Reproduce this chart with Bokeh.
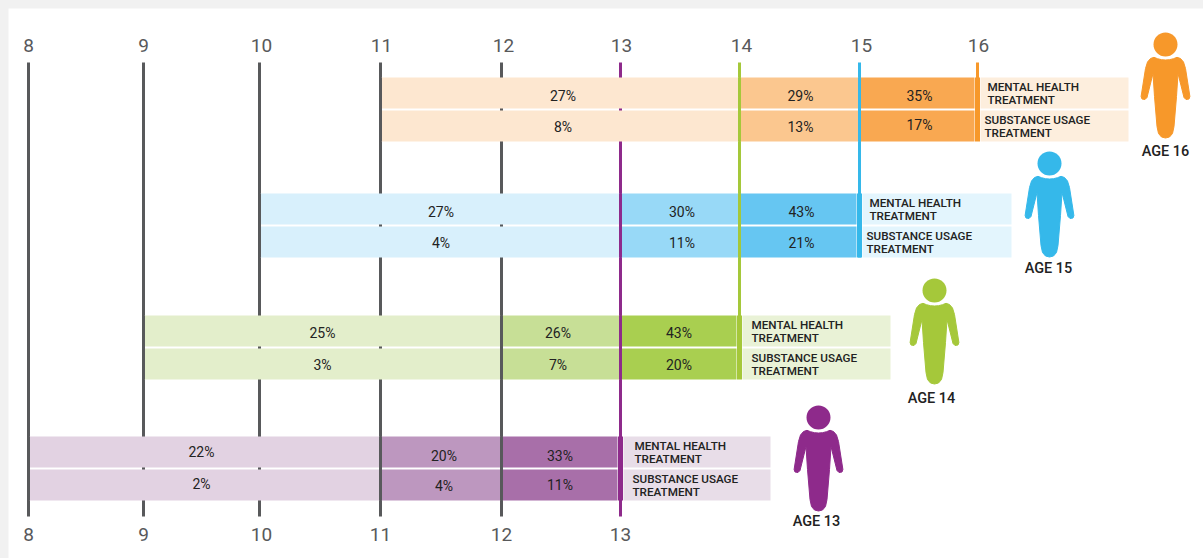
from bokeh.plotting import figure
from bokeh.embed import file_html
from bokeh.resources import INLINE
from bokeh.core.properties import value
import numpy as np

AGES = [8, 9, 10, 11, 12, 13, 14, 15, 16]
AGE_PX = [28, 143, 259, 380, 501, 620, 739, 859, 977]          # where each age sits on the page
LINE_COLORS = ["#58595b"] * 5 + ["#8e2a8b", "#a5c83a", "#35b8ea", "#f7982a"]
LINE_BOTTOM = [516, 516, 516, 516, 516, 516, 378, 257, 140]

COHORTS = [16, 15, 14, 13]
MENTAL = {16: [27, 29, 35], 15: [27, 30, 43], 14: [25, 26, 43], 13: [22, 20, 33]}
SUBSTANCE = {16: [8, 13, 17], 15: [4, 11, 21], 14: [3, 7, 20], 13: [2, 4, 11]}
SHADES = {
    16: ["#fde7d0", "#fbc78f", "#f9a851"],
    15: ["#d8f0fc", "#98d9f7", "#66c6f2"],
    14: ["#e3eecb", "#c7df96", "#a9cf50"],
    13: ["#e2d2e2", "#bd97bf", "#a86fa9"],
}
BAND_COLOR = {16: "#fdeedd", 15: "#e3f5fd", 14: "#e9f2d6", 13: "#e8dde8"}
ROW_TOP = {16: 77, 15: 193, 14: 315, 13: 436}
BAND_END = {16: 1128, 15: 1011, 14: 890, 13: 770}
HEAD = {16: (1165, 44), 15: (1049, 163), 14: (934, 290), 13: (818, 417)}
AGE_LABEL_XY = {16: (1165, 151), 15: (1048, 268), 14: (931, 398), 13: (816, 521)}
TEXT_DX = {16: [2, 0, 0], 15: [0, 1, 1], 14: [-1, -4, -2], 13: [-4, 2, -2]}
TEXT_DY = {16: [[2.5, 2.5, 2.5], [0.5, 0.5, -1]], 15: [[2.5, 2.5, 2.5], [1, 1, 1]],
           14: [[2, 2, 2], [1, 1, 1]], 13: [[0, 4, 4], [-1, 1, 0]]}
LABEL_DX = {16: (10, 7), 15: (10, 7), 14: (12, 12), 13: (14, 12)}

BODY_RIGHT = [(0, 15.5), (4, 15.2), (8, 14.2), (11.5, 12.8), (15, 14), (18, 17.5), (20, 24), (24.4, 52),
              (23.5, 54.5), (20.5, 55), (18.5, 53), (12.5, 29), (11, 52), (8.5, 82), (7, 89), (4, 92.5), (0, 93.5)]

def x(age):
    return float(np.interp(age, AGES, AGE_PX))

p = figure(width=1195, height=550, x_range=(8, 1203), y_range=(558, 8),
           toolbar_location=None, output_backend="svg", min_border=0,
           outline_line_color=None, background_fill_color="white", border_fill_color="white")
p.axis.visible = False
p.grid.visible = False

# base age lines
for a, c, b in zip(AGES, LINE_COLORS, LINE_BOTTOM):
    p.segment([x(a)], [62], [x(a)], [b], line_color=c, line_width=3)

ROW_H, GAP = 31, 2
def t(txt, tx, ty, size, color="#222222", font="Roboto", align="center"):
    p.text([tx], [ty], text=[txt], text_font=value(font), text_font_size=size, text_color=color,
           text_align=align, text_baseline="middle")

for c in COHORTS:
    edges = [c - 5, c - 2, c - 1, c]
    top = ROW_TOP[c]
    rows = [(top, top + ROW_H, MENTAL[c]), (top + ROW_H + GAP, top + 2 * ROW_H + GAP, SUBSTANCE[c])]
    lc = LINE_COLORS[AGES.index(c)]
    for y0, y1, vals in rows:
        for i in range(3):
            x0 = x(edges[i]) + 1
            x1 = x(edges[i + 1]) - (3 if i == 2 else 1)
            p.quad(left=[x0], right=[x1], top=[y0], bottom=[y1], fill_color=SHADES[c][i], line_color=None)
        p.quad(left=[x(c) + 3], right=[BAND_END[c]], top=[y0], bottom=[y1], fill_color=BAND_COLOR[c], line_color=None)
    bot = top + 2 * ROW_H + GAP
    # lines that stay visible at segment boundaries
    for e in edges[:3]:
        k = AGES.index(e)
        p.segment([x(e)], [top], [x(e)], [bot], line_color=LINE_COLORS[k], line_width=3)
    p.segment([x(c)], [top], [x(c)], [bot], line_color=lc, line_width=5)
    for r, (y0, y1, vals) in enumerate(rows):
        for i in range(3):
            ty = (y0 + y1) / 2 + TEXT_DY[c][r][i]
            t(f"{vals[i]}%", (x(edges[i]) + x(edges[i + 1])) / 2 + 1 + TEXT_DX[c][i], ty, "14px")
    # category labels
    tx1, tx2 = x(c) + LABEL_DX[c][0], x(c) + LABEL_DX[c][1]
    for txt, xx, yy in [("MENTAL HEALTH", tx1, top + 9), ("TREATMENT", tx1, top + 22),
                        ("SUBSTANCE USAGE", tx2, top + 42), ("TREATMENT", tx2, top + 55)]:
        t(txt, xx, yy, "11.7px", align="left", font="Roboto Medium")
    # person figure
    hx, hy = HEAD[c]
    p.ellipse([hx], [hy], width=24, height=24, fill_color=lc, line_color=None)
    xs = [hx + a for a, _ in BODY_RIGHT] + [hx - a for a, _ in reversed(BODY_RIGHT)]
    ys = [hy + b for _, b in BODY_RIGHT] + [hy + b for _, b in reversed(BODY_RIGHT)]
    p.patch(xs, ys, fill_color=lc, line_color=lc, line_width=1, line_join="round")
    lx, ly = AGE_LABEL_XY[c]
    t(f"AGE {c}", lx, ly, "14.5px", font="Roboto Medium")

# age tick labels
TOP_LABEL_DX = [0, 0, 2, 1, 2, 1, 2, 2, 1]
for a, dx in zip(AGES, TOP_LABEL_DX):
    t(str(a), x(a) + dx, 45, "19px", color="#58595b")
for a, dx in zip(AGES[:6], [0, 0, 2, 0, 0, 0]):
    t(str(a), x(a) + dx, 534, "19px", color="#58595b")

html = file_html(p, INLINE)
style = ("<style>html{background:#f1f1f1 !important;}"
         "body{background:#f1f1f1 !important;margin:8px 0 0 8px !important;overflow:hidden !important;}</style>")
html = html.replace("</head>", style + "</head>", 1)
open("out.html", "w").write(html)
